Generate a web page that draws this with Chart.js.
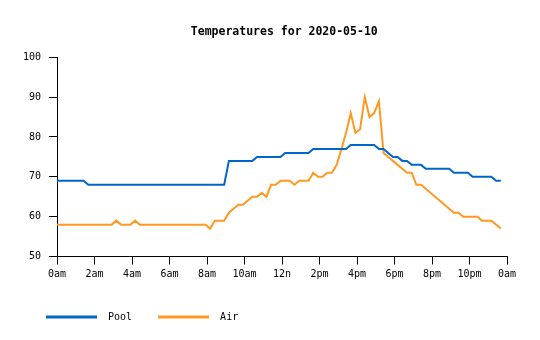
<!DOCTYPE html>
<html>
<head>
<meta charset="utf-8">
<script src="https://cdn.jsdelivr.net/npm/chart.js@4"></script>
<style>
  body { margin: 0; background: #fff; }
  #wrap { width: 540px; height: 340px; }
</style>
</head>
<body>
<div id="wrap"><canvas id="tempChart" width="540" height="340"></canvas></div>
<script>
// readings, one row per hour
const times = [
    '0:00',
    '0:10', '0:25', '0:40', '0:55',
    '1:10', '1:25', '1:40', '1:55',
    '2:10', '2:25', '2:40', '2:55',
    '3:10', '3:25', '3:40', '3:55',
    '4:10', '4:25', '4:40', '4:55',
    '5:10', '5:25', '5:40', '5:55',
    '6:10', '6:25', '6:40', '6:55',
    '7:10', '7:25', '7:40', '7:55',
    '8:10', '8:25', '8:40', '8:55',
    '9:10', '9:25', '9:40', '9:55',
    '10:10', '10:25', '10:40', '10:55',
    '11:10', '11:25', '11:40', '11:55',
    '12:10', '12:25', '12:40', '12:55',
    '13:10', '13:25', '13:40', '13:55',
    '14:10', '14:25', '14:40', '14:55',
    '15:10', '15:25', '15:40', '15:55',
    '16:10', '16:25', '16:40', '16:55',
    '17:10', '17:25', '17:40', '17:55',
    '18:10', '18:25', '18:40', '18:55',
    '19:10', '19:25', '19:40', '19:55',
    '20:10', '20:25', '20:40', '20:55',
    '21:10', '21:25', '21:40', '21:55',
    '22:10', '22:25', '22:40', '22:55',
    '23:10', '23:25', '23:40'
];

const pool = [
    69,
    69, 69, 69, 69,
    69, 69, 68, 68,
    68, 68, 68, 68,
    68, 68, 68, 68,
    68, 68, 68, 68,
    68, 68, 68, 68,
    68, 68, 68, 68,
    68, 68, 68, 68,
    68, 68, 68, 68,
    74, 74, 74, 74,
    74, 74, 75, 75,
    75, 75, 75, 75,
    76, 76, 76, 76,
    76, 76, 77, 77,
    77, 77, 77, 77,
    77, 77, 78, 78,
    78, 78, 78, 78,
    77, 77, 76, 75,
    75, 74, 74, 73,
    73, 73, 72, 72,
    72, 72, 72, 72,
    71, 71, 71, 71,
    70, 70, 70, 70,
    70, 69, 69
];

const air = [
    58,
    58, 58, 58, 58,
    58, 58, 58, 58,
    58, 58, 58, 58,
    59, 58, 58, 58,
    59, 58, 58, 58,
    58, 58, 58, 58,
    58, 58, 58, 58,
    58, 58, 58, 58,
    57, 59, 59, 59,
    61, 62, 63, 63,
    64, 65, 65, 66,
    65, 68, 68, 69,
    69, 69, 68, 69,
    69, 69, 71, 70,
    70, 71, 71, 73,
    77, 81, 86, 81,
    82, 90, 85, 86,
    89, 76, 75, 74,
    73, 72, 71, 71,
    68, 68, 67, 66,
    65, 64, 63, 62,
    61, 61, 60, 60,
    60, 60, 59, 59,
    59, 58, 57
];

const hourLabels = ['0am', '2am', '4am', '6am', '8am', '10am', '12n', '2pm', '4pm', '6pm', '8pm', '10pm', '0am'];

const mono = 'DejaVu Sans Mono';

// turn 'H:MM' into hours so the x scale can be linear
function toHours(t) {
    const parts = t.split(':');
    return Number(parts[0]) + Number(parts[1]) / 60;
}

function series(values) {
    return values.map((v, i) => ({ x: toHours(times[i]), y: v }));
}

Chart.defaults.font.family = mono;
Chart.defaults.font.size = 10;
Chart.defaults.color = '#000';

const ctx = document.getElementById('tempChart').getContext('2d');
new Chart(ctx, {
    type: 'line',
    data: {
        datasets: [{
            label: 'Pool',
            data: series(pool),
            borderColor: '#0066cc',
            backgroundColor: '#0066cc',
            borderWidth: 2,
            pointRadius: 0,
            tension: 0
        }, {
            label: 'Air',
            data: series(air),
            borderColor: '#ff9922',
            backgroundColor: '#ff9922',
            borderWidth: 2,
            pointRadius: 0,
            tension: 0
        }]
    },
    options: {
        responsive: false,
        animation: false,
        layout: {
            padding: { left: 20, right: 33, top: 0, bottom: 8 }
        },
        scales: {
            x: {
                type: 'linear',
                min: 0,
                max: 24,
                grid: { drawOnChartArea: false, tickLength: 8, color: '#000' },
                border: { color: '#000' },
                ticks: {
                    stepSize: 2,
                    padding: 4,
                    maxRotation: 0,
                    autoSkip: false,
                    callback: function (value) {
                        return hourLabels[value / 2];
                    }
                },
                afterFit: function (scale) {
                    scale.height += 1.5;
                }
            },
            y: {
                min: 50,
                max: 100,
                grid: { drawOnChartArea: false, tickLength: 8, color: '#000' },
                border: { color: '#000' },
                ticks: { stepSize: 10, padding: 8 },
                afterFit: function (scale) {
                    scale.width = 37;
                }
            }
        },
        plugins: {
            title: {
                display: true,
                // leading spaces push the centred title over the plot area
                text: '      Temperatures for 2020-05-10',
                color: '#000',
                font: { family: mono, size: 11.5, weight: 'bold' },
                padding: { top: 25, bottom: 18.5 }
            },
            legend: {
                position: 'bottom',
                align: 'start',
                labels: {
                    boxWidth: 51,
                    boxHeight: 3,
                    padding: 26,
                    font: { family: mono, size: 10 },
                    generateLabels: function (chart) {
                        return chart.data.datasets.map((ds, i) => ({
                            text: ' ' + ds.label,
                            fillStyle: ds.borderColor,
                            strokeStyle: ds.borderColor,
                            lineWidth: 0,
                            fontColor: '#000',
                            datasetIndex: i,
                            hidden: false
                        }));
                    }
                }
            },
            tooltip: { enabled: false }
        }
    }
});
</script>
</body>
</html>
